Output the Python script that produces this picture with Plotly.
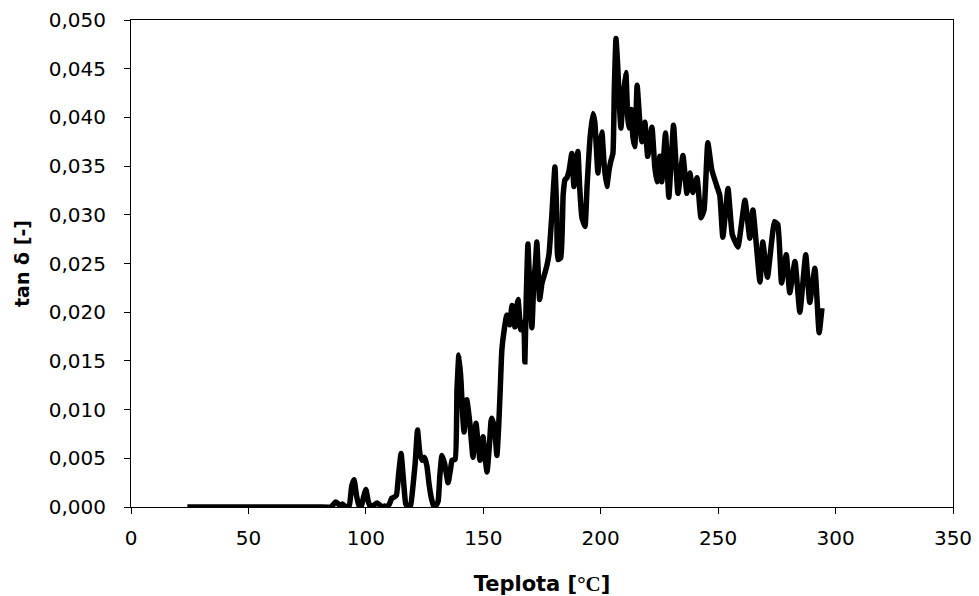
import plotly.graph_objects as go

temperature = [24, 30, 40, 50, 60, 70, 80, 85,
    86, 87, 88, 89, 90, 91, 92, 93, 94, 95, 96, 97, 98, 99, 100, 101, 102, 103, 104, 105,
    106, 107, 108, 109, 110, 111, 112, 113, 114, 115, 116, 117, 118, 119, 120, 121, 122,
    123, 124, 125, 126, 127, 128, 129, 130, 130.8, 131.5, 132.4, 133.5, 135, 136, 136.7,
    138, 138.8, 139.6, 140.5, 141.2, 141.8, 143, 143.7, 144.3, 145.6, 146.2, 146.9, 147.8,
    148.6, 149.3, 149.9, 150.8, 151.6, 152.5, 153.3, 153.7, 154.8, 155.8, 156.5, 157.2,
    157.9, 158.8, 160, 161.3, 162.2, 163.5, 164.2, 164.8, 166, 167.2, 167.7, 168.3, 169,
    169.7, 170.7, 171.5, 172.2, 172.8, 174, 175, 176.2, 177, 178, 179.2, 180.5, 181.3,
    181.8, 183, 184, 184.8, 185.6, 186.5, 187.7, 188.6, 189.5, 190.3, 191, 192, 193.3,
    194.2, 195.5, 196.7, 197.5, 198.8, 199.6, 200.5, 201.5, 202.6, 203.5, 204.3, 205.2,
    205.8, 206.5, 207.3, 208, 208.6, 209.5, 210.7, 211.5, 212, 213, 213.7, 214.5, 215.5,
    216.5, 217.5, 218.8, 220, 221.8, 223, 223.9, 225.2, 226, 227.6, 229, 231, 232.9, 235,
    236.7, 238, 239.2, 241, 242.7, 244, 245.6, 247.3, 249.5, 250.7, 252, 254.2, 256, 258.4,
    261.4, 263.5, 264.8, 267.8, 269, 271, 274, 275.4, 277, 279, 280.5, 282.7, 284.8, 287.3,
    289, 291.2, 293, 294.2]

tan_delta = [0, 0, 0, 0, 0, 0, 0, 0,
    0.0002, 0.0005, 0.0004, 0.0001, 0.0003, 0.0001, 0.0, 0.0002, 0.0022, 0.0028, 0.0012,
    0.0002, 0.0, 0.0010, 0.0018, 0.0006, 0.0, 0.0001, 0.0003, 0.0004, 0.0002, 0.0, 0.0001,
    0.0, 0.0003, 0.0009, 0.0010, 0.0012, 0.0035, 0.0055, 0.0028, 0.0003, 0.0, 0.0001,
    0.0020, 0.0045, 0.0079, 0.0055, 0.0048, 0.0051, 0.0042, 0.0022, 0.0008, 0.0, 0.0002,
    0.0006, 0.0032, 0.0053, 0.0045, 0.0025, 0.0038, 0.0048, 0.0049, 0.0120, 0.0156, 0.0130,
    0.0095, 0.0077, 0.0110, 0.0098, 0.0086, 0.0051, 0.0070, 0.0086, 0.0065, 0.0048, 0.0060,
    0.0072, 0.0050, 0.0036, 0.0060, 0.0088, 0.0091, 0.0080, 0.0053, 0.0080, 0.0120, 0.0161,
    0.0180, 0.0197, 0.0187, 0.0207, 0.0185, 0.0205, 0.0213, 0.0182, 0.0190, 0.0149, 0.0215,
    0.0270, 0.0230, 0.0184, 0.0230, 0.0250, 0.0272, 0.0213, 0.0230, 0.0240, 0.0247, 0.0260,
    0.0300, 0.0349, 0.0300, 0.0254, 0.0256, 0.0320, 0.0336, 0.0338, 0.0345, 0.0363, 0.0329,
    0.0350, 0.0365, 0.0330, 0.0297, 0.0288, 0.0330, 0.0380, 0.0404, 0.0395, 0.0343, 0.0370,
    0.0385, 0.0350, 0.0329, 0.0345, 0.0355, 0.0363, 0.0430, 0.0481, 0.0450, 0.0410, 0.0389,
    0.0420, 0.0446, 0.0400, 0.0389, 0.0408, 0.0380, 0.0370, 0.0433, 0.0400, 0.0375, 0.0395,
    0.0360, 0.0390, 0.0350, 0.0334, 0.0360, 0.0334, 0.0384, 0.0318, 0.0392, 0.0322, 0.0361,
    0.0322, 0.0343, 0.0323, 0.0338, 0.0297, 0.0305, 0.0374, 0.0346, 0.0329, 0.0320, 0.0277,
    0.0327, 0.0280, 0.0267, 0.0315, 0.0276, 0.0305, 0.0231, 0.0272, 0.0236, 0.0293, 0.0290,
    0.0230, 0.0259, 0.0220, 0.0252, 0.0200, 0.0259, 0.0210, 0.0245, 0.0179, 0.0204]

x_ticks = [0, 50, 100, 150, 200, 250, 300, 350]
y_ticks = [0.000, 0.005, 0.010, 0.015, 0.020, 0.025, 0.030, 0.035, 0.040, 0.045, 0.050]
y_tick_labels = [f"{v:.3f}".replace(".", ",") for v in y_ticks]

FONT = "DejaVu Sans"

fig = go.Figure()
fig.add_trace(go.Scatter(
    x=temperature, y=tan_delta, mode="lines",
    line=dict(color="black", width=5.5, shape="spline", smoothing=0.4),
    showlegend=False, hoverinfo="skip",
))

fig.update_layout(
    width=979, height=596,
    margin=dict(l=131, r=26, t=20, b=89),
    paper_bgcolor="white", plot_bgcolor="white",
    font=dict(family=FONT, size=20, color="black"),
)
fig.update_xaxes(
    range=[0, 350], tickvals=x_ticks, ticktext=[str(t) for t in x_ticks],
    showgrid=False, zeroline=False, automargin=False,
    showline=True, linecolor="black", linewidth=1, mirror=True,
    ticks="outside", ticklen=6, tickcolor="black", tickwidth=1,
    ticklabelstandoff=7,
    tickfont=dict(family=FONT, size=20),
    title=dict(text="<b>Teplota [<span style='font-family:Liberation Serif'>°C</span>]</b>",
               font=dict(family=FONT, size=21), standoff=27),
)
fig.update_yaxes(
    range=[0, 0.050], tickvals=y_ticks, ticktext=y_tick_labels,
    showgrid=False, zeroline=False, automargin=False,
    showline=True, linecolor="black", linewidth=1, mirror=True,
    ticks="outside", ticklen=6, tickcolor="black", tickwidth=1,
    ticklabelstandoff=14,
    tickfont=dict(family=FONT, size=20),
    title=dict(text="<b>tan δ [-]</b>", font=dict(family=FONT, size=19), standoff=14),
)

fig.write_html("out.html")
